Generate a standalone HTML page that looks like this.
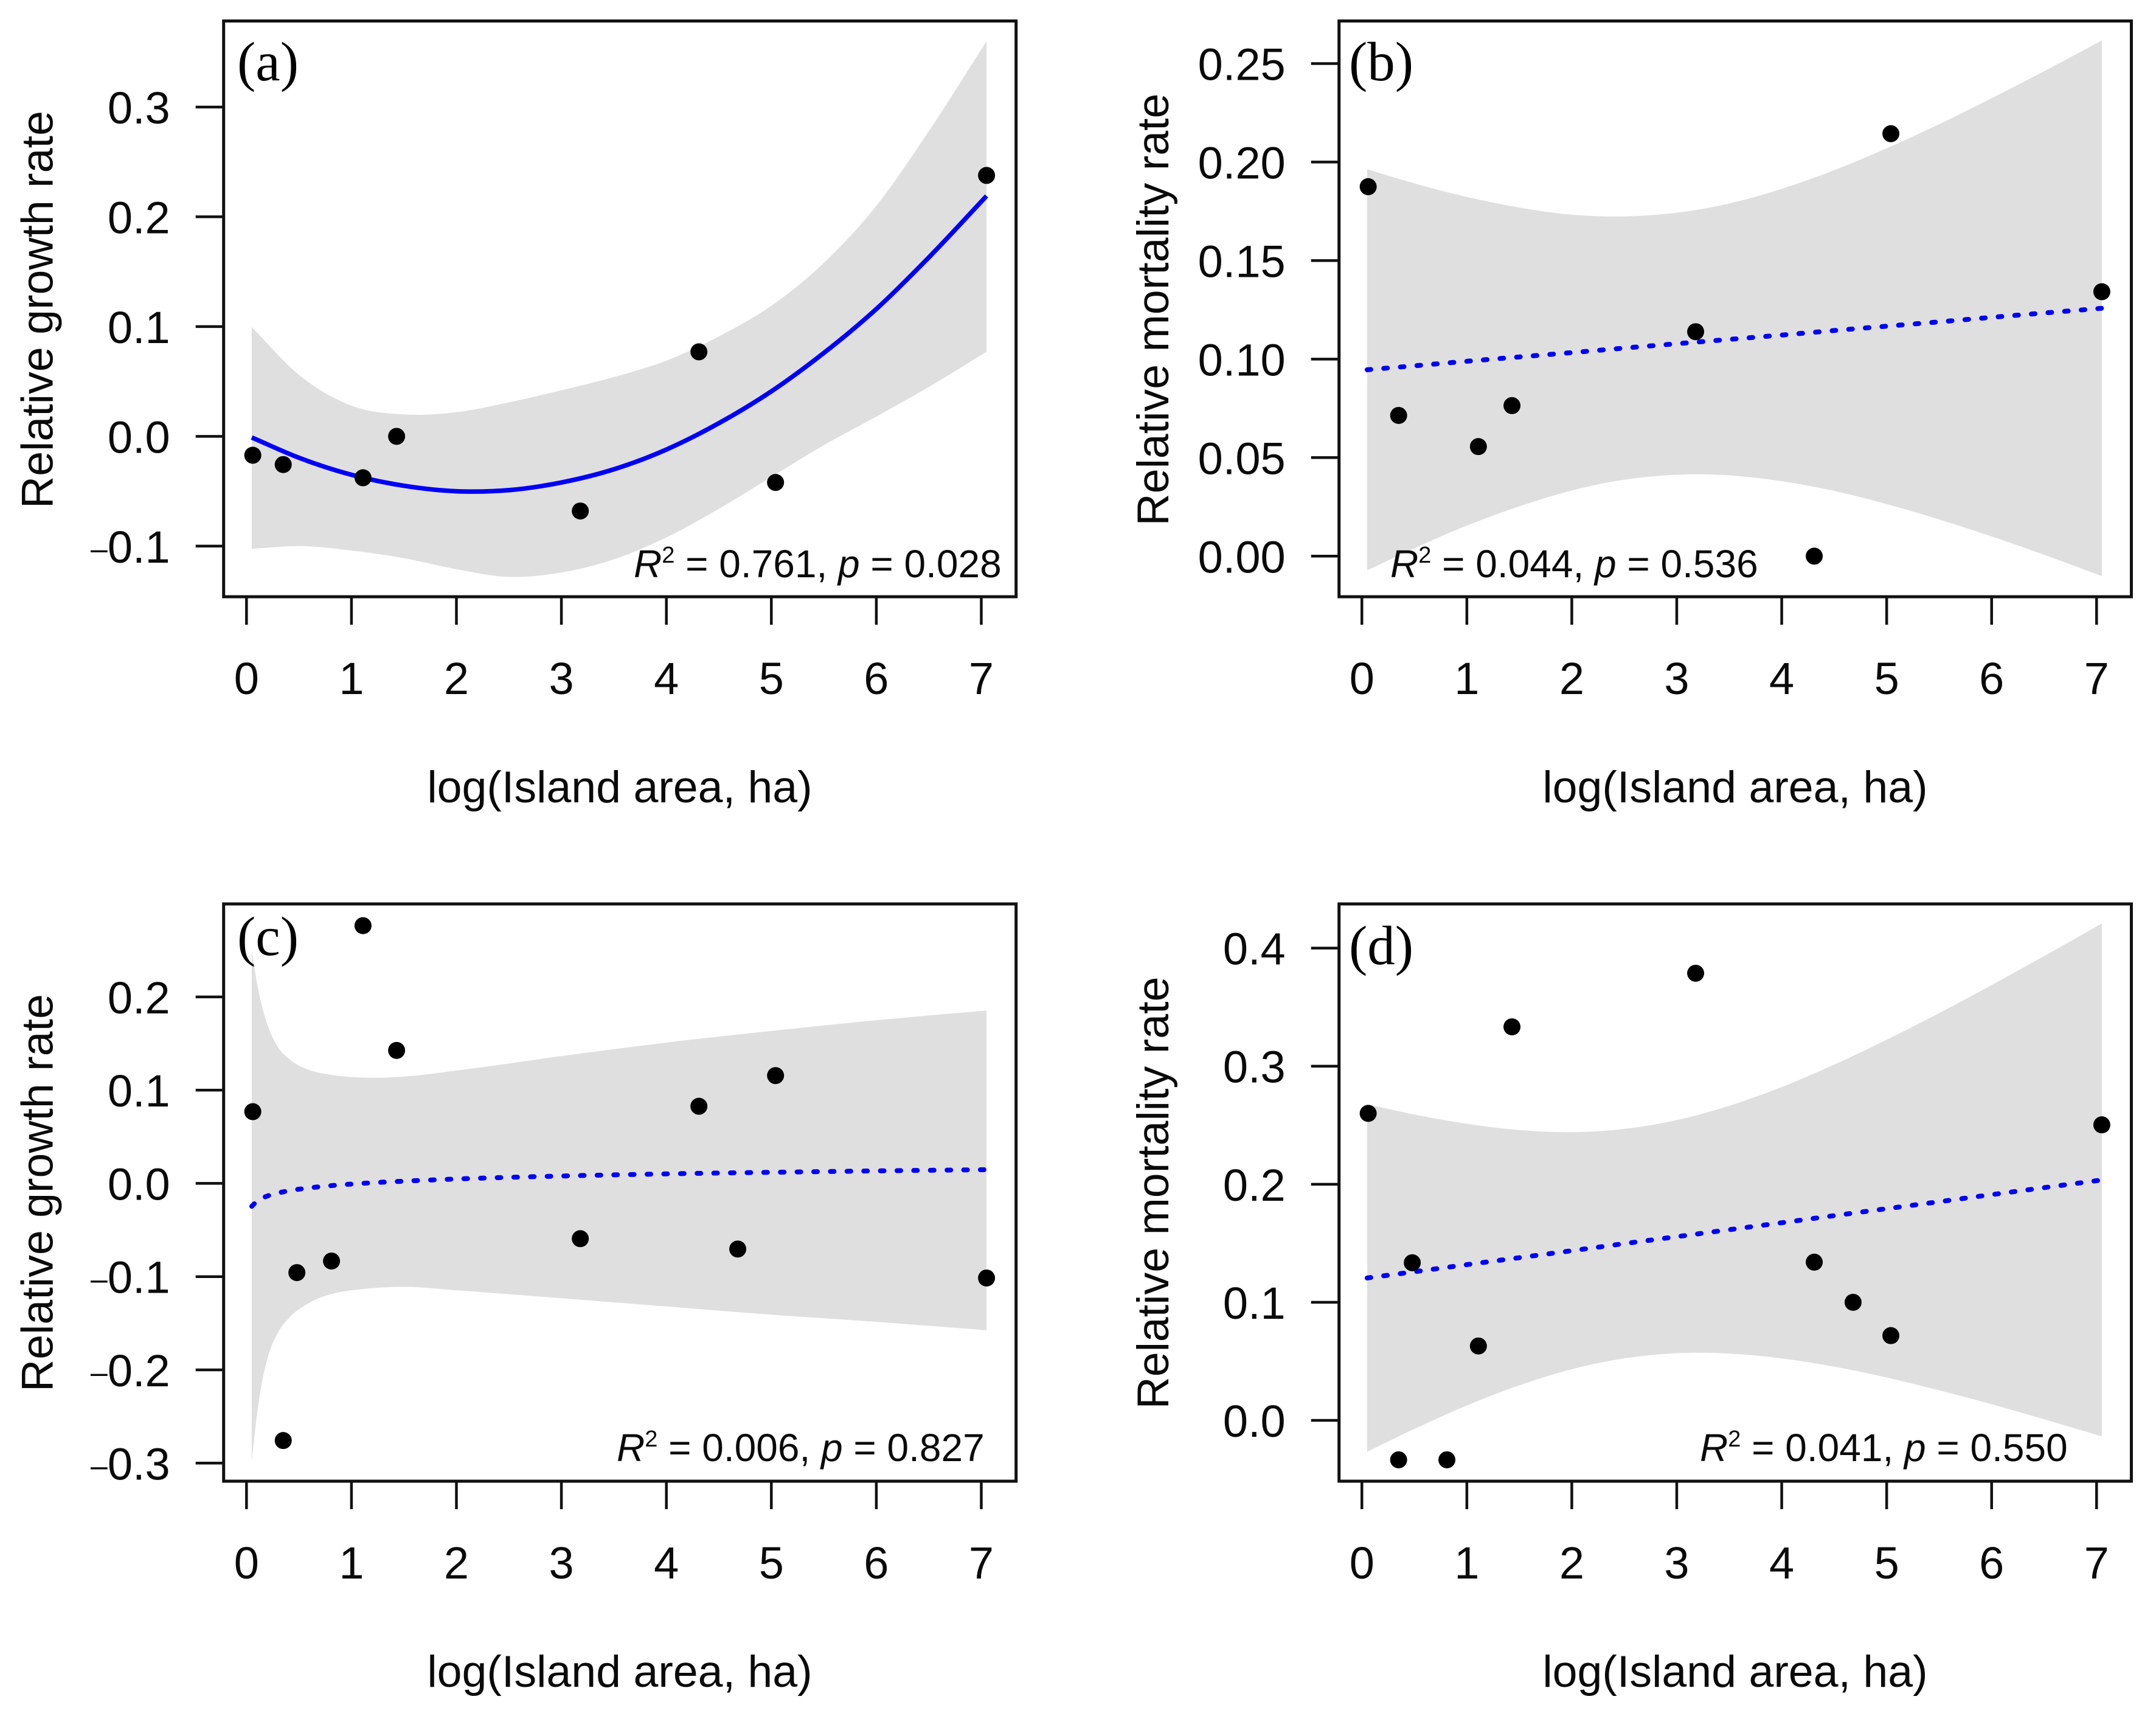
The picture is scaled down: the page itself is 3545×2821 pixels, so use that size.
<!DOCTYPE html>
<html lang="en">
<head>
<meta charset="utf-8">
<title>Relative growth and mortality rate versus island area</title>
<style>
html,body{margin:0;padding:0;background:#fff;}
svg{display:block;}
text{font-family:"Liberation Sans",Arial,sans-serif;fill:#0a0a0a;}
.tick{font-size:74px;}
.title{font-size:73.5px;}
.note{font-size:64px;}
.sup{font-size:38px;}
.letter{font-family:"Liberation Serif","Times New Roman",serif;font-size:91px;fill:#000;}
</style>
</head>
<body>
<svg id="figure" xmlns="http://www.w3.org/2000/svg" width="3545" height="2821" viewBox="0 0 3545 2821">
  <rect x="0" y="0" width="3545" height="2821" fill="#ffffff"/>

  <g id="panel-a">
    <g id="marks-a"></g>
    <text class="letter" x="390" y="132">(a)</text>
    <text class="title" x="1019" y="1319" text-anchor="middle">log(Island area, ha)</text>
    <text class="title" transform="translate(86.5 509) rotate(-90)" text-anchor="middle">Relative growth rate</text>
    <text class="note" x="1042" y="949"><tspan font-style="italic">R</tspan><tspan class="sup" dy="-24">2</tspan><tspan dy="24"> = 0.761, </tspan><tspan font-style="italic">p</tspan> = 0.028</text>
  </g>

  <g id="panel-b">
    <g id="marks-b"></g>
    <text class="letter" x="2218" y="132">(b)</text>
    <text class="title" x="2853" y="1319" text-anchor="middle">log(Island area, ha)</text>
    <text class="title" transform="translate(1921 509) rotate(-90)" text-anchor="middle">Relative mortality rate</text>
    <text class="note" x="2286" y="949"><tspan font-style="italic">R</tspan><tspan class="sup" dy="-24">2</tspan><tspan dy="24"> = 0.044, </tspan><tspan font-style="italic">p</tspan> = 0.536</text>
  </g>

  <g id="panel-c">
    <g id="marks-c"></g>
    <text class="letter" x="390" y="1570">(c)</text>
    <text class="title" x="1019" y="2773" text-anchor="middle">log(Island area, ha)</text>
    <text class="title" transform="translate(86.5 1961) rotate(-90)" text-anchor="middle">Relative growth rate</text>
    <text class="note" x="1014" y="2402"><tspan font-style="italic">R</tspan><tspan class="sup" dy="-24">2</tspan><tspan dy="24"> = 0.006, </tspan><tspan font-style="italic">p</tspan> = 0.827</text>
  </g>

  <g id="panel-d">
    <g id="marks-d"></g>
    <text class="letter" x="2218" y="1585">(d)</text>
    <text class="title" x="2853" y="2773" text-anchor="middle">log(Island area, ha)</text>
    <text class="title" transform="translate(1921 1961) rotate(-90)" text-anchor="middle">Relative mortality rate</text>
    <text class="note" x="2795" y="2402"><tspan font-style="italic">R</tspan><tspan class="sup" dy="-24">2</tspan><tspan dy="24"> = 0.041, </tspan><tspan font-style="italic">p</tspan> = 0.550</text>
  </g>
</svg>

<script>
/* Shared x axis */
const xTicks = [0, 1, 2, 3, 4, 5, 6, 7];
const xDomain = [-0.2178, 7.3315];

/* Fit and confidence-band sample positions */
const gridStandard = [0.05, 0.5, 1, 1.5, 2, 2.5, 3, 3.5, 4, 4.5, 5, 5.5, 6, 6.5, 7.05];
const gridPanelC = [0.05, 0.1, 0.15, 0.2, 0.3, 0.4, 0.6, 0.8, 1.1, 1.5, 2, 3, 4, 5, 6, 7.05];

/* Panel (a) */
const aYTicks = [-0.1, 0, 0.1, 0.2, 0.3];
const aYLabels = ['–0.1', '0.0', '0.1', '0.2', '0.3'];
const aYDomain = [-0.1461, 0.3784];
const aPointX = [0.06, 0.35, 1.11, 1.43, 3.18, 4.31, 5.04, 7.05];
const aPointY = [-0.0172, -0.0257, -0.0377, 0.0, -0.068, 0.077, -0.042, 0.2377];
const aFit = [-0.001, -0.0195, -0.035, -0.045, -0.05, -0.049, -0.042, -0.030, -0.012, 0.012, 0.041, 0.076, 0.116, 0.163, 0.219];
const aUpper = [0.0995, 0.056, 0.028, 0.02, 0.022, 0.031, 0.042, 0.054, 0.069, 0.091, 0.119, 0.158, 0.21, 0.278, 0.36];
const aLower = [-0.1025, -0.1, -0.104, -0.111, -0.121, -0.128, -0.124, -0.112, -0.092, -0.066, -0.037, -0.008, 0.018, 0.045, 0.077];

/* Panel (b) */
const bYTicks = [0, 0.05, 0.10, 0.15, 0.20, 0.25];
const bYLabels = ['0.00', '0.05', '0.10', '0.15', '0.20', '0.25'];
const bYDomain = [-0.0206, 0.2716];
const bPointX = [0.06, 0.35, 1.11, 1.43, 3.18, 4.31, 5.04, 7.05];
const bPointY = [0.1875, 0.0714, 0.0556, 0.0764, 0.1139, 0.0, 0.2144, 0.1342];
const bFit = [0.0946, 0.0966, 0.0989, 0.1011, 0.1033, 0.1056, 0.1078, 0.1100, 0.1122, 0.1145, 0.1167, 0.1189, 0.1212, 0.1234, 0.1258];
const bUpper = [0.1964, 0.1892, 0.1823, 0.1769, 0.1733, 0.1724, 0.1743, 0.1790, 0.1864, 0.1959, 0.2070, 0.2192, 0.2324, 0.2461, 0.2617];
const bLower = [-0.0072, 0.0040, 0.0155, 0.0253, 0.0333, 0.0388, 0.0413, 0.0410, 0.0380, 0.0331, 0.0264, 0.0186, 0.0100, 0.0007, -0.0101];

/* Panel (c) */
const cYTicks = [-0.3, -0.2, -0.1, 0, 0.1, 0.2];
const cYLabels = ['–0.3', '–0.2', '–0.1', '0.0', '0.1', '0.2'];
const cYDomain = [-0.3194, 0.2997];
const cPointX = [0.06, 0.35, 0.48, 0.81, 1.11, 1.43, 3.18, 4.31, 4.68, 5.04, 7.05];
const cPointY = [0.0769, -0.2758, -0.0957, -0.0833, 0.2764, 0.1426, -0.0593, 0.0827, -0.0704, 0.1156, -0.1015];
const cFit = [-0.0246, -0.0191, -0.0158, -0.0135, -0.0103, -0.008, -0.0048, -0.0025, 0.0, 0.0024, 0.0047, 0.0079, 0.0102, 0.0119, 0.0134, 0.0147];
const cUpper = [0.2491, 0.215, 0.189, 0.17, 0.146, 0.134, 0.1215, 0.1165, 0.1135, 0.1145, 0.121, 0.1365, 0.151, 0.1635, 0.175, 0.1854];
const cLower = [-0.298, -0.248, -0.212, -0.188, -0.16, -0.145, -0.128, -0.119, -0.1135, -0.111, -0.1147, -0.1232, -0.132, -0.1408, -0.1485, -0.1575];

/* Panel (d) */
const dYTicks = [0, 0.1, 0.2, 0.3, 0.4];
const dYLabels = ['0.0', '0.1', '0.2', '0.3', '0.4'];
const dYDomain = [-0.0515, 0.4374];
const dPointX = [0.06, 0.35, 0.48, 0.81, 1.11, 1.43, 3.18, 4.31, 4.68, 5.04, 7.05];
const dPointY = [0.26, -0.0334, 0.1335, -0.0334, 0.063, 0.3333, 0.3787, 0.134, 0.1, 0.0718, 0.2503];
const dFit = [0.1206, 0.1259, 0.1319, 0.1378, 0.1437, 0.1497, 0.1556, 0.1615, 0.1674, 0.1734, 0.1793, 0.1852, 0.1912, 0.1971, 0.2036];
const dUpper = [0.2678, 0.2590, 0.2512, 0.2459, 0.2441, 0.2469, 0.2543, 0.2664, 0.2823, 0.3013, 0.3223, 0.3449, 0.3687, 0.3932, 0.4208];
const dLower = [-0.0266, -0.0072, 0.0126, 0.0297, 0.0433, 0.0525, 0.0569, 0.0566, 0.0525, 0.0455, 0.0363, 0.0255, 0.0137, 0.0010, -0.0136];

const SVG_NS = 'http://www.w3.org/2000/svg';

function make(tag, props) {
  const el = document.createElementNS(SVG_NS, tag);
  for (const k in props) el.setAttribute(k, props[k]);
  return el;
}

function linear(domain, range) {
  return function (v) {
    return range[0] + (v - domain[0]) * (range[1] - range[0]) / (domain[1] - domain[0]);
  };
}

/* Smooth cubic path through screen points */
function tangents(pts) {
  const n = pts.length, m = [];
  const sec = [];
  for (let i = 0; i < n - 1; i++) sec.push((pts[i + 1][1] - pts[i][1]) / (pts[i + 1][0] - pts[i][0]));
  m[0] = sec[0];
  m[n - 1] = sec[n - 2];
  for (let i = 1; i < n - 1; i++) {
    const h0 = pts[i][0] - pts[i - 1][0], h1 = pts[i + 1][0] - pts[i][0];
    m[i] = (sec[i - 1] * h1 + sec[i] * h0) / (h0 + h1);
  }
  return m;
}

function smooth(pts) {
  const m = tangents(pts);
  let d = 'M' + pts[0][0].toFixed(2) + ' ' + pts[0][1].toFixed(2);
  for (let i = 0; i < pts.length - 1; i++) {
    const h = (pts[i + 1][0] - pts[i][0]) / 3;
    d += 'C' + (pts[i][0] + h).toFixed(2) + ' ' + (pts[i][1] + m[i] * h).toFixed(2) + ' ' +
         (pts[i + 1][0] - h).toFixed(2) + ' ' + (pts[i + 1][1] - m[i + 1] * h).toFixed(2) + ' ' +
         pts[i + 1][0].toFixed(2) + ' ' + pts[i + 1][1].toFixed(2);
  }
  return d;
}

function smoothBack(pts) {
  const m = tangents(pts);
  const last = pts.length - 1;
  let d = 'L' + pts[last][0].toFixed(2) + ' ' + pts[last][1].toFixed(2);
  for (let i = last; i > 0; i--) {
    const h = (pts[i][0] - pts[i - 1][0]) / 3;
    d += 'C' + (pts[i][0] - h).toFixed(2) + ' ' + (pts[i][1] - m[i] * h).toFixed(2) + ' ' +
      (pts[i - 1][0] + h).toFixed(2) + ' ' + (pts[i - 1][1] + m[i - 1] * h).toFixed(2) + ' ' +
      pts[i - 1][0].toFixed(2) + ' ' + pts[i - 1][1].toFixed(2);
  }
  return d;
}

function drawPanel(cfg) {
  const root = document.getElementById(cfg.target);
  const sx = linear(xDomain, [cfg.left, cfg.right]);
  const sy = linear(cfg.yDomain, [cfg.bottom, cfg.top]);

  const upperPts = cfg.grid.map(function (x, i) { return [sx(x), sy(cfg.upper[i])]; });
  const lowerPts = cfg.grid.map(function (x, i) { return [sx(x), sy(cfg.lower[i])]; });

  const band = make('path', { d: smooth(upperPts) + smoothBack(lowerPts) + 'Z', fill: '#dfdfdf' });
  
  
  root.appendChild(band);

  const fitPts = cfg.grid.map(function (x, i) { return [sx(x), sy(cfg.fit[i])]; });
  const fitProps = { d: smooth(fitPts), fill: 'none', stroke: '#0000f5', 'stroke-width': cfg.dashed ? 8 : 7.5 };
  if (cfg.dashed) {
    fitProps['stroke-dasharray'] = '6 21.4';
    fitProps['stroke-linecap'] = 'round';
  }
  const fitLine = make('path', fitProps);
  
  
  root.appendChild(fitLine);

  cfg.pointX.forEach(function (x, i) {
    const dot = make('circle', { cx: sx(x), cy: sy(cfg.pointY[i]), r: 14, fill: '#000' });
    
    
    root.appendChild(dot);
  });

  const box = make('rect', {
    x: cfg.left, y: cfg.top, width: cfg.right - cfg.left, height: cfg.bottom - cfg.top,
    fill: 'none', stroke: '#111', 'stroke-width': 5
  });
  
  
  root.appendChild(box);

  xTicks.forEach(function (v) {
    const tick = make('line', { x1: sx(v), x2: sx(v), y1: cfg.bottom, y2: cfg.bottom + 46, stroke: '#111', 'stroke-width': 4.5 });
    
    
    root.appendChild(tick);

    const label = make('text', { class: 'tick', x: sx(v), y: cfg.bottom + 160, 'text-anchor': 'middle' });
    
    
    label.textContent = String(v);
    root.appendChild(label);
  });

  cfg.yTicks.forEach(function (v, i) {
    const tick = make('line', { x1: cfg.left - 46, x2: cfg.left, y1: sy(v), y2: sy(v), stroke: '#111', 'stroke-width': 4.5 });
    
    
    root.appendChild(tick);

    const label = make('text', { class: 'tick', x: cfg.left - 88, y: sy(v) + 27, 'text-anchor': 'end' });
    
    
    const txt = cfg.yLabels[i];
    if (txt.charAt(0) === '–') {
      const dash = make('tspan', { 'font-size': '50', dy: '-6' });
      dash.textContent = '–';
      label.appendChild(dash);
      const rest = make('tspan', { dy: '6' });
      rest.textContent = txt.slice(1);
      label.appendChild(rest);
    } else {
      label.textContent = txt;
    }
    root.appendChild(label);
  });
}

drawPanel({ target: 'marks-a', left: 367.7, right: 1670.7, top: 34.5, bottom: 981, yDomain: aYDomain, yTicks: aYTicks, yLabels: aYLabels, pointX: aPointX, pointY: aPointY, grid: gridStandard, fit: aFit, upper: aUpper, lower: aLower, dashed: false });
drawPanel({ target: 'marks-b', left: 2201.7, right: 3504.5, top: 34.5, bottom: 981, yDomain: bYDomain, yTicks: bYTicks, yLabels: bYLabels, pointX: bPointX, pointY: bPointY, grid: gridStandard, fit: bFit, upper: bUpper, lower: bLower, dashed: true });
drawPanel({ target: 'marks-c', left: 367.7, right: 1670.7, top: 1486, bottom: 2435, yDomain: cYDomain, yTicks: cYTicks, yLabels: cYLabels, pointX: cPointX, pointY: cPointY, grid: gridPanelC, fit: cFit, upper: cUpper, lower: cLower, dashed: true });
drawPanel({ target: 'marks-d', left: 2201.7, right: 3504.5, top: 1486, bottom: 2435, yDomain: dYDomain, yTicks: dYTicks, yLabels: dYLabels, pointX: dPointX, pointY: dPointY, grid: gridStandard, fit: dFit, upper: dUpper, lower: dLower, dashed: true });
</script>
</body>
</html>
